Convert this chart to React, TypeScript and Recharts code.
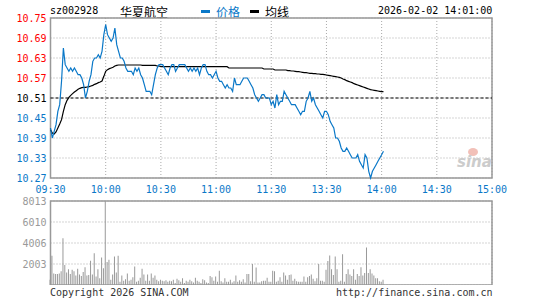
import React from "react";
import {
  ComposedChart,
  Line,
  BarChart,
  Bar,
  XAxis,
  YAxis,
  CartesianGrid,
  ReferenceLine,
  ReferenceArea,
} from "recharts";

// time axis: trading minutes from 09:30 (0) to 15:00 (240)
const timeTicks = [0, 30, 60, 90, 120, 150, 180, 210, 240];
const timeLabels = ["09:30", "10:00", "10:30", "11:00", "11:30", "13:30", "14:00", "14:30", "15:00"];

const prevClose = 10.51;
const priceTicks = [10.27, 10.33, 10.39, 10.45, 10.51, 10.57, 10.63, 10.69, 10.75];
const priceLabels = ["10.27", "10.33", "10.39", "10.45", "10.51", "10.57", "10.63", "10.69", "10.75"];
const pctLabels = ["-2.28%", "-1.71%", "-1.14%", "-0.57%", "0.00%", "+0.57%", "+1.14%", "+1.71%", "+2.28%"];

const volTicks = [2003, 4006, 6010, 8013];
const volLabels = ["2003", "4006", "6010", "8013"];

// minute prices, 09:30 .. 14:01
const prices = [
  10.42, 10.39, 10.41, 10.43, 10.47, 10.49, 10.56, 10.66, 10.61, 10.60,
  10.59, 10.60, 10.59, 10.60, 10.59, 10.58, 10.58, 10.57, 10.55, 10.51,
  10.53, 10.56, 10.58, 10.62, 10.63, 10.63, 10.64, 10.63, 10.65, 10.70,
  10.73, 10.70, 10.69, 10.68, 10.69, 10.72, 10.67, 10.65, 10.63, 10.63,
  10.62, 10.60, 10.59, 10.59, 10.59, 10.58, 10.60, 10.59, 10.60, 10.58,
  10.57, 10.55, 10.53, 10.53, 10.53, 10.52, 10.55, 10.58, 10.60, 10.61,
  10.61, 10.61, 10.60, 10.59, 10.58, 10.60, 10.61, 10.61, 10.59, 10.60,
  10.61, 10.61, 10.61, 10.61, 10.60, 10.59, 10.60, 10.59, 10.60, 10.59,
  10.60, 10.58, 10.60, 10.61, 10.61, 10.59, 10.58, 10.58, 10.57, 10.58,
  10.59, 10.57, 10.56, 10.56, 10.55, 10.54, 10.55, 10.54, 10.54, 10.53,
  10.57, 10.55, 10.55, 10.55, 10.56, 10.57, 10.57, 10.57, 10.56, 10.55,
  10.54, 10.52, 10.51, 10.50, 10.51, 10.52, 10.52, 10.51, 10.51, 10.51,
  10.49, 10.50, 10.48, 10.52, 10.49, 10.50, 10.50, 10.53, 10.52, 10.51,
  10.50, 10.49, 10.49, 10.49, 10.48, 10.47, 10.46, 10.47, 10.47, 10.50,
  10.51, 10.53, 10.50, 10.51, 10.49, 10.48, 10.47, 10.46, 10.45, 10.47,
  10.47, 10.46, 10.44, 10.43, 10.42, 10.39, 10.39, 10.38, 10.36, 10.35,
  10.35, 10.36, 10.35, 10.34, 10.33, 10.33, 10.33, 10.34, 10.32, 10.31,
  10.30, 10.34, 10.33, 10.29, 10.27, 10.29, 10.30, 10.31, 10.32, 10.33,
  10.34, 10.35,
];

const avgPrices = [
  10.415, 10.405, 10.402, 10.408, 10.42, 10.432, 10.445, 10.47, 10.49, 10.503,
  10.512, 10.518, 10.523, 10.528, 10.532, 10.536, 10.539, 10.541, 10.542, 10.542,
  10.543, 10.544, 10.546, 10.548, 10.551, 10.553, 10.556, 10.558, 10.561, 10.575,
  10.59, 10.595, 10.598, 10.6, 10.602, 10.606, 10.608, 10.609, 10.609, 10.609,
  10.609, 10.609, 10.609, 10.609, 10.609, 10.609, 10.609, 10.609, 10.609, 10.609,
  10.608, 10.608, 10.608, 10.608, 10.608, 10.608, 10.608, 10.608, 10.606, 10.606,
  10.604, 10.604, 10.604, 10.604, 10.604, 10.604, 10.604, 10.604, 10.604, 10.604,
  10.604, 10.604, 10.604, 10.604, 10.604, 10.604, 10.604, 10.604, 10.604, 10.604,
  10.604, 10.604, 10.604, 10.604, 10.604, 10.604, 10.604, 10.604, 10.604, 10.604,
  10.604, 10.604, 10.604, 10.604, 10.604, 10.604, 10.604, 10.6, 10.6, 10.6,
  10.6, 10.6, 10.6, 10.6, 10.6, 10.6, 10.6, 10.6, 10.6, 10.6,
  10.6, 10.6, 10.6, 10.6, 10.6, 10.6, 10.597, 10.597, 10.597, 10.597,
  10.597, 10.597, 10.594, 10.594, 10.594, 10.594, 10.594, 10.594, 10.594, 10.592,
  10.592, 10.591, 10.591, 10.59, 10.589, 10.589, 10.588, 10.587, 10.586, 10.586,
  10.585, 10.584, 10.584, 10.583, 10.583, 10.582, 10.582, 10.581, 10.581, 10.58,
  10.579, 10.578, 10.577, 10.576, 10.575, 10.574, 10.573, 10.572, 10.57, 10.567,
  10.565, 10.562, 10.56, 10.558, 10.556, 10.553, 10.551, 10.549, 10.547, 10.545,
  10.543, 10.541, 10.539, 10.537, 10.535, 10.534, 10.533, 10.532, 10.531, 10.53,
  10.529, 10.529,
];

const volumes = [
  500, 2780, 1100, 1050, 1050, 1100, 1300, 4460, 1900, 1200,
  1500, 1050, 1450, 1300, 900, 1550, 1000, 850, 1250, 1700,
  900, 950, 2310, 1000, 3040, 800, 1500, 650, 2620, 1600,
  8013, 2200, 2400, 500, 1000, 2720, 1200, 2780, 300, 900,
  400, 550, 1100, 400, 500, 750, 1770, 300, 400, 700,
  1550, 1000, 400, 1000, 400, 1100, 700, 900, 500, 350,
  500, 400, 350, 450, 300, 400, 350, 500, 200, 600,
  450, 300, 650, 200, 400, 300, 500, 350, 250, 700,
  400, 300, 200, 550, 450, 250, 200, 850, 750, 400,
  800, 300, 1360, 350, 250, 650, 300, 300, 500, 250,
  350, 900, 300, 450, 300, 550, 250, 1050, 1050, 350,
  2000, 300, 1670, 250, 250, 350, 400, 400, 700, 300,
  300, 1360, 1300, 300, 400, 750, 300, 1200, 900, 500,
  950, 1000, 400, 600, 350, 300, 300, 300, 800, 300,
  750, 850, 1000, 600, 350, 650, 2000, 400, 400, 300,
  1450, 2300, 2810, 1500, 950, 2720, 1500, 300, 400, 2945,
  300, 1050, 1500, 1000, 850, 1500, 500, 1050, 850, 1700,
  900, 1150, 3570, 1150, 1500, 1100, 900, 650, 650, 350,
  300, 500,
];

const BLUE = "#0a78c8";
const RED = "#ff0000";
const GRID = "#aaaaaa";
const BORDER = "#999999";
const MONO = "'DejaVu Sans Mono', monospace";
const CJK = "'Noto Sans CJK SC', sans-serif";

const chartData = prices.map((p, i) => ({ t: i, price: p, avg: avgPrices[i], vol: volumes[i] }));

const colorFor = (v: number) => (v > prevClose + 0.001 ? RED : v < prevClose - 0.001 ? BLUE : "#000");

function LeftTick(props: any) {
  const { x, y, payload } = props;
  const idx = priceTicks.indexOf(payload.value);
  return (
    <text x={x} y={y} dy="0.355em" textAnchor="end" fontSize={10} fontFamily={MONO} fill={colorFor(payload.value)}>
      {priceLabels[idx]}
    </text>
  );
}

function RightTick(props: any) {
  const { x, y, payload } = props;
  const idx = priceTicks.indexOf(payload.value);
  return (
    <text x={x} y={y} dy="0.355em" textAnchor="start" fontSize={10} fontFamily={MONO} fill={colorFor(payload.value)}>
      {pctLabels[idx]}
    </text>
  );
}

const abs = (left: number, top: number): React.CSSProperties => ({ position: "absolute", left, top, whiteSpace: "nowrap" });

export default function App() {
  return (
    <div style={{ position: "absolute", left: 0, top: 0, width: 545, height: 300, background: "#fff", overflow: "hidden" }}>
      {/* header */}
      <div style={{ ...abs(50, 5), fontFamily: MONO, fontSize: 10, color: "#000" }}>sz002928</div>
      <div style={{ ...abs(120, 3), fontFamily: CJK, fontSize: 12, color: "#000" }}>华夏航空</div>
      <div style={{ ...abs(201, 10), width: 9, height: 3, background: BLUE }} />
      <div style={{ ...abs(216, 3), fontFamily: CJK, fontSize: 12, color: BLUE }}>价格</div>
      <div style={{ ...abs(250, 10), width: 9, height: 3, background: "#000" }} />
      <div style={{ ...abs(265, 3), fontFamily: CJK, fontSize: 12, color: "#000" }}>均线</div>
      <div style={{ ...abs(378, 5), fontFamily: MONO, fontSize: 10, color: "#000" }}>2026-02-02 14:01:00</div>

      {/* price panel */}
      <div style={abs(0, 0)}>
        <ComposedChart width={545} height={200} data={chartData} margin={{ top: 18, right: 0, bottom: 0, left: 0 }}>
          <CartesianGrid stroke={GRID} strokeDasharray="1 2" />
          <XAxis
            type="number"
            dataKey="t"
            domain={[0, 240]}
            ticks={timeTicks}
            height={22}
            axisLine={false}
            tickLine={false}
            tickSize={6}
            tickMargin={2}
            interval={0}
            tick={{ fill: BLUE, fontSize: 10, fontFamily: MONO }}
            tickFormatter={(v: number) => timeLabels[timeTicks.indexOf(v)]}
          />
          <YAxis
            type="number"
            domain={[10.27, 10.75]}
            ticks={priceTicks}
            width={50.5}
            axisLine={false}
            tickLine={false}
            tickSize={2}
            tickMargin={2}
            interval={0}
            tick={<LeftTick />}
          />
          <YAxis
            yAxisId="pct"
            orientation="right"
            type="number"
            domain={[10.27, 10.75]}
            ticks={priceTicks}
            width={53}
            axisLine={false}
            tickLine={false}
            tickSize={1}
            tickMargin={2}
            interval={0}
            tick={<RightTick />}
          />
          <ReferenceLine y={prevClose} stroke="#000" strokeDasharray="3 2" strokeWidth={1.2} />
          <ReferenceArea x1={0} x2={240} y1={10.27} y2={10.75} fill="none" stroke={BORDER} strokeWidth={1.5} />
          <Line type="linear" dataKey="avg" stroke="#000" strokeWidth={1.2} dot={false} isAnimationActive={false} />
          <Line type="linear" dataKey="price" stroke={BLUE} strokeWidth={1.2} dot={false} isAnimationActive={false} />
        </ComposedChart>
      </div>

      {/* watermark */}
      <div style={{ ...abs(468, 148), width: 10, height: 8, borderRadius: "50%", background: "#f2c0b8" }} />
      <div style={{ ...abs(457, 153), fontFamily: "'DejaVu Sans', sans-serif", fontSize: 15, fontWeight: "bold", fontStyle: "italic", color: "#cccccc" }}>
        sina
      </div>

      {/* volume panel */}
      <div style={abs(0, 195)}>
        <BarChart width={545} height={90} data={chartData} margin={{ top: 6, right: 53, bottom: 0, left: 0 }}>
          <CartesianGrid stroke={GRID} strokeDasharray="1 2" />
          <XAxis
            type="number"
            dataKey="t"
            domain={[0, 240]}
            ticks={timeTicks}
            height={0}
            axisLine={false}
            tickLine={false}
            tick={false}
          />
          <YAxis
            type="number"
            domain={[0, 8013]}
            ticks={volTicks}
            width={50.5}
            axisLine={false}
            tickLine={false}
            tickSize={2}
            tickMargin={2}
            interval={0}
            tick={{ fill: "#999", fontSize: 10, fontFamily: MONO }}
            tickFormatter={(v: number) => volLabels[volTicks.indexOf(v)]}
          />
          <ReferenceArea x1={0} x2={240} y1={0} y2={8013} fill="none" stroke={BORDER} strokeWidth={1.5} />
          <Bar dataKey="vol" fill="#999" barSize={1} isAnimationActive={false} />
        </BarChart>
      </div>

      {/* footer */}
      <div style={{ ...abs(50, 287), fontFamily: MONO, fontSize: 10, color: "#333" }}>Copyright 2026 SINA.COM</div>
      <div style={{ ...abs(336, 287), fontFamily: MONO, fontSize: 10, color: "#333" }}>http://finance.sina.com.cn</div>
    </div>
  );
}
